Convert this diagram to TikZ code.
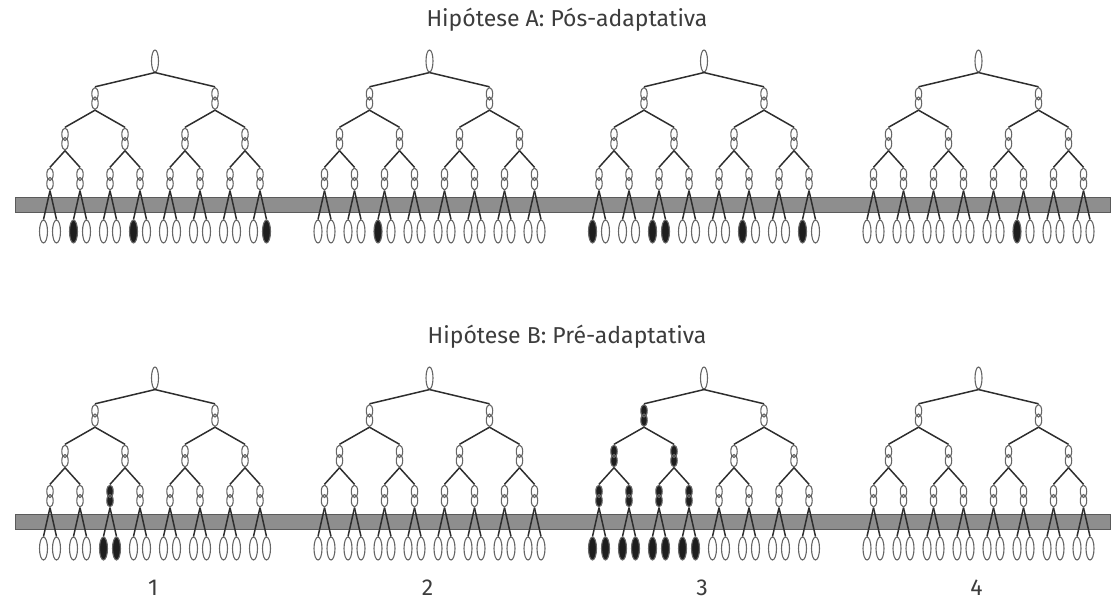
\documentclass[tikz,border=0pt]{standalone}
\usepackage{fontspec}
\setmainfont{Fira Sans}
\usetikzlibrary{shapes.geometric}

\definecolor{celldraw}{HTML}{666666}
\definecolor{cellblack}{HTML}{1E1E1E}
\definecolor{linecol}{HTML}{2E2E2E}
\definecolor{barfill}{HTML}{8E8E8E}
\definecolor{bardraw}{HTML}{5A5A5A}
\definecolor{textcol}{HTML}{3C3C3C}

\tikzset{
  cellfill/.store in=\cellfill, cellfill=white,
  mutant/.style={cellfill=cellblack},
  root/.style={ellipse, draw=celldraw, fill=\cellfill, line width=1.1pt,
    minimum width=7pt, minimum height=22pt, inner sep=0pt},
  leaf/.style={ellipse, draw=celldraw, fill=\cellfill, line width=1.1pt,
    minimum width=8pt, minimum height=23pt, inner sep=0pt},
  pair/.style={rectangle, minimum width=9pt, minimum height=23pt, inner sep=0pt,
    path picture={
      \draw[celldraw, fill=\cellfill, line width=1.1pt]
        ([yshift=4.7pt]path picture bounding box.center) ellipse [x radius=3.2pt, y radius=6.2pt]
        ([yshift=-4.7pt]path picture bounding box.center) ellipse [x radius=3.2pt, y radius=6.2pt];
    }},
  edge/.style={draw=linecol, line width=1.5pt},
  bar/.style={fill=barfill, draw=bardraw, line width=0.8pt},
  title/.style={text=textcol, font=\fontsize{23}{26}\selectfont},
  number/.style={text=textcol, font=\fontsize{23}{26}\selectfont},
  % cells that carry the mutation
  m-A1-4-3/.style=mutant, m-A1-4-7/.style=mutant, m-A1-4-16/.style=mutant,
  m-A2-4-5/.style=mutant,
  m-A3-4-1/.style=mutant, m-A3-4-5/.style=mutant, m-A3-4-6/.style=mutant,
  m-A3-4-11/.style=mutant, m-A3-4-15/.style=mutant,
  m-A4-4-11/.style=mutant,
  m-B1-3-3/.style=mutant, m-B1-4-5/.style=mutant, m-B1-4-6/.style=mutant,
  m-B3-1-1/.style=mutant,
  m-B3-2-1/.style=mutant, m-B3-2-2/.style=mutant,
  m-B3-3-1/.style=mutant, m-B3-3-2/.style=mutant, m-B3-3-3/.style=mutant, m-B3-3-4/.style=mutant,
  m-B3-4-1/.style=mutant, m-B3-4-2/.style=mutant, m-B3-4-3/.style=mutant, m-B3-4-4/.style=mutant,
  m-B3-4-5/.style=mutant, m-B3-4-6/.style=mutant, m-B3-4-7/.style=mutant, m-B3-4-8/.style=mutant,
}

\begin{document}
\begin{tikzpicture}[x=1pt,y=-1pt]
  \useasboundingbox (0,0) rectangle (1113,600);

  \node[title] (titleA) at (567,20) {Hipótese A: Pós-adaptativa};
  \node[title] (titleB) at (567,337) {Hipótese B: Pré-adaptativa};

  \foreach \g/\yo in {A/0,B/317} {
    % barreira
    \filldraw[bar] (15,197+\yo) rectangle (1110,212+\yo);
    \foreach \t in {1,...,4} {
      \pgfmathsetmacro\xo{155+274.5*(\t-1)}
      \node[m-\g\t-0-1/.try, root] (\g\t-0-1) at (\xo,61+\yo) {};
      \foreach \i in {1,2}
        \node[m-\g\t-1-\i/.try, pair] (\g\t-1-\i) at ({\xo+120*(\i-1.5)},98.5+\yo) {};
      \foreach \i in {1,...,4}
        \node[m-\g\t-2-\i/.try, pair] (\g\t-2-\i) at ({\xo+60*(\i-2.5)},139+\yo) {};
      \foreach \i in {1,...,8}
        \node[m-\g\t-3-\i/.try, pair] (\g\t-3-\i) at ({\xo+30*(\i-4.5)},179+\yo) {};
      \foreach \i in {1,...,16} {
        \pgfmathsetmacro\lx{\xo+30*(ceil(\i/2)-4.5)+13*(mod(\i+1,2)-0.5)}
        \node[m-\g\t-4-\i/.try, leaf] (\g\t-4-\i) at (\lx,231.5+\yo) {};
      }
      % ligações
      \foreach \l in {1,...,4} {
        \pgfmathtruncatemacro\nn{2^\l}
        \pgfmathtruncatemacro\pl{\l-1}
        \foreach \i in {1,...,\nn} {
          \pgfmathtruncatemacro\p{ceil(\i/2)}
          \draw[edge] (\g\t-\pl-\p.south) -- (\g\t-\l-\i.north);
        }
      }
    }
  }

  %numeração
  \foreach \t in {1,...,4}
    \node[number] (num\t) at ({153+274.5*(\t-1)},588) {\t};
\end{tikzpicture}
\end{document}
